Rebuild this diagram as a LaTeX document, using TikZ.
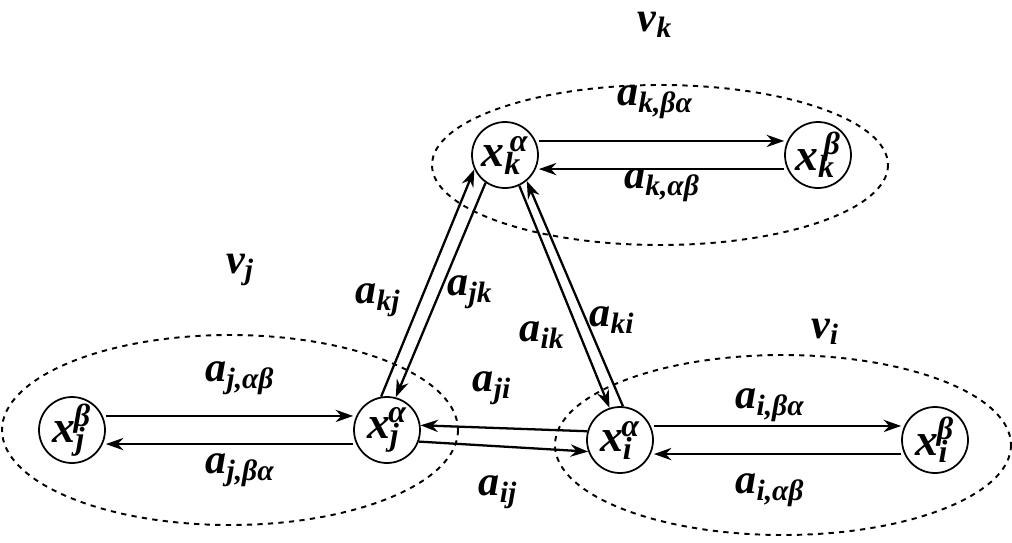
\documentclass[tikz,border=0pt]{standalone}
\usepackage{fontspec}
\setmainfont{Liberation Serif}
\usetikzlibrary{arrows.meta}
\newcommand{\lab}[2]{\bfseries\itshape #1\textsubscript{#2}}
\begin{document}
\begin{tikzpicture}[x=0.02cm,y=-0.02cm,
  st/.style={circle,draw,line width=1pt,minimum size=1.32cm,inner sep=0pt,font=\fontsize{26}{28}\selectfont\bfseries\itshape},
  grp/.style={draw,dashed,line width=1.1pt},
  ar/.style={line width=1.3pt,-{Stealth[length=10pt,width=7pt]}},
  lb/.style={font=\fontsize{24}{28}\selectfont}]
\useasboundingbox (0,0) rectangle (1012,542);
\draw[grp] (660,165) ellipse [x radius=228, y radius=80];
\draw[grp] (230,430) ellipse [x radius=228, y radius=95];
\draw[grp] (783,445) ellipse [x radius=228, y radius=90];
\node[st] (ka) at (505,155) {x\textsubscript{k}\kern-0.25em\textsuperscript{α}};
\node[st] (kb) at (818,155) {x\textsubscript{k}\kern-0.25em\textsuperscript{β}};
\node[st] (jb) at (72,430) {x\textsubscript{j}\kern-0.25em\textsuperscript{β}};
\node[st] (ja) at (387,430) {x\textsubscript{j}\kern-0.25em\textsuperscript{α}};
\node[st] (ia) at (620,440) {x\textsubscript{i}\kern-0.25em\textsuperscript{α}};
\node[st] (ib) at (935,440) {x\textsubscript{i}\kern-0.25em\textsuperscript{β}};
\node[lb] (vk) at (655,25) {\lab{v}{k}};
\node[lb] (vj) at (240,270) {\lab{v}{j}};
\node[lb] (vi) at (825,332) {\lab{v}{i}};
\draw[ar] ([yshift=8]ka.east) -- ([yshift=8]kb.west);
\draw[ar] ([yshift=-8]kb.west) -- ([yshift=-8]ka.east);
\draw[ar] ([yshift=8]jb.east) -- ([yshift=8]ja.west);
\draw[ar] ([yshift=-8]ja.west) -- ([yshift=-8]jb.east);
\draw[ar] ([yshift=8]ia.east) -- ([yshift=8]ib.west);
\draw[ar] ([yshift=-8]ib.west) -- ([yshift=-8]ia.east);
\draw[ar] (ja.100) -- (ka.205);
\draw[ar] (ka.235) -- (ja.75);
\draw[ar] (ka.295) -- (ia.108);
\draw[ar] (ia.85) -- (ka.310);
\draw[ar] (ia.165) -- (ja.8);
\draw[ar] (ja.-20) -- (ia.200);
\node[lb] (l1) at (655,102) {\lab{a}{k,βα}};
\node[lb] (l2) at (662,185) {\lab{a}{k,αβ}};
\node[lb] (l3) at (240,378) {\lab{a}{j,αβ}};
\node[lb] (l4) at (240,470) {\lab{a}{j,βα}};
\node[lb] (l5) at (770,405) {\lab{a}{i,βα}};
\node[lb] (l6) at (770,490) {\lab{a}{i,αβ}};
\node[lb] (l7) at (378,300) {\lab{a}{kj}};
\node[lb] (l8) at (470,292) {\lab{a}{jk}};
\node[lb] (l9) at (542,335) {\lab{a}{ik}};
\node[lb] (l10) at (612,320) {\lab{a}{ki}};
\node[lb] (l11) at (492,388) {\lab{a}{ji}};
\node[lb] (l12) at (498,492) {\lab{a}{ij}};
\end{tikzpicture}
\end{document}
